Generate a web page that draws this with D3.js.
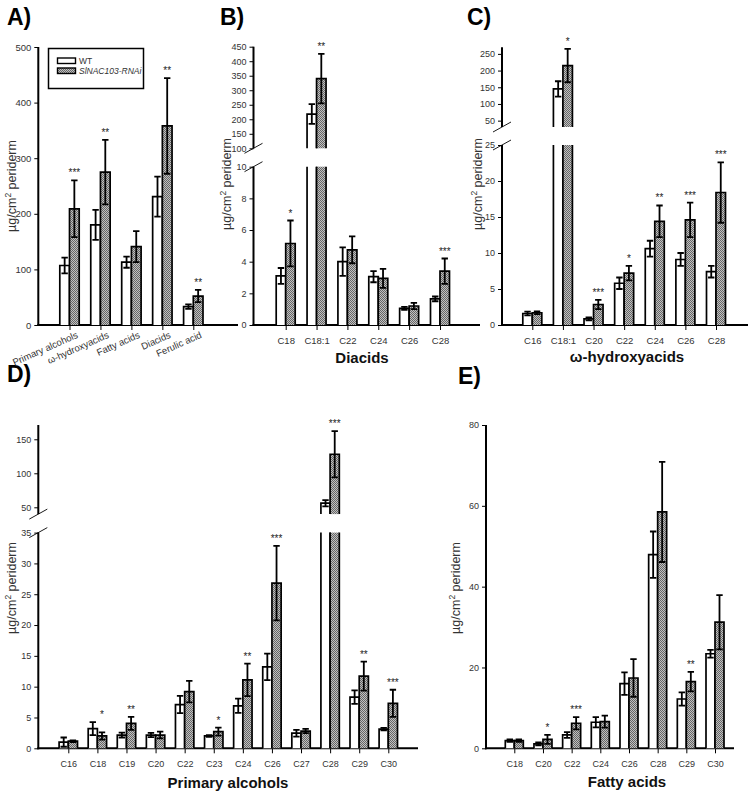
<!DOCTYPE html>
<html><head><meta charset="utf-8">
<script src="https://cdn.jsdelivr.net/npm/d3@7"></script>
<style>
body{margin:0;background:#fff;}
svg{display:block;font-family:"Liberation Sans",Arial,Helvetica,sans-serif;}
</style>
</head><body>
<svg id="chart" width="750" height="792"></svg>
<script>
// ---------- DATA ----------
const seriesNames = ["WT", "SlNAC103-RNAi"];

const catsA = ["Primary alcohols", "ω-hydroxyacids", "Fatty acids", "Diacids", "Ferulic acid"];
const wtA   = [107, 180, 113, 231, 33];
const wtSdA = [14, 27, 10, 36, 4];
const rnA   = [209, 275, 141, 358, 52];
const rnSdA = [51, 58, 28, 86, 11];
const sigA  = ["***", "**", "", "**", "**"];
const ticksA = [0, 100, 200, 300, 400, 500];

const catsB = ["C18", "C18:1", "C22", "C24", "C26", "C28"];
const wtB   = [3.1, 218, 4.0, 3.05, 1.05, 1.65];
const wtSdB = [0.5, 34, 0.9, 0.35, 0.1, 0.15];
const rnB   = [5.15, 340, 4.75, 2.95, 1.2, 3.4];
const rnSdB = [1.45, 85, 0.85, 0.6, 0.2, 0.8];
const sigB  = ["*", "**", "", "", "", "***"];
const ticksBlow = [0, 2, 4, 6, 8, 10];
const ticksBup  = [100, 150, 200, 250, 300, 350, 400, 450];

const catsC = ["C16", "C18:1", "C20", "C22", "C24", "C26", "C28"];
const wtC   = [1.6, 145, 0.85, 5.8, 10.6, 9.1, 7.4];
const wtSdC = [0.25, 23, 0.2, 0.8, 1.1, 0.9, 0.8];
const rnC   = [1.7, 215, 2.85, 7.2, 14.4, 14.6, 18.4];
const rnSdC = [0.2, 50, 0.65, 1.0, 2.2, 2.4, 4.2];
const sigC  = ["", "*", "***", "*", "**", "***", "***"];
const ticksClow = [0, 5, 10, 15, 20, 25];
const ticksCup  = [50, 100, 150, 200, 250];

const catsD = ["C16", "C18", "C19", "C20", "C22", "C23", "C24", "C26", "C27", "C28", "C29", "C30"];
const wtD   = [1.0, 3.2, 2.15, 2.15, 7.1, 2.0, 6.9, 13.2, 2.45, 56, 8.3, 3.1];
const wtSdD = [0.75, 1.05, 0.4, 0.35, 1.4, 0.15, 1.15, 2.15, 0.55, 4.5, 1.1, 0.2];
const rnD   = [1.15, 2.0, 4.05, 2.15, 9.2, 2.7, 11.1, 26.8, 2.8, 128, 11.7, 7.3];
const rnSdD = [0.15, 0.6, 1.05, 0.55, 1.75, 0.65, 2.65, 6.05, 0.35, 34, 2.35, 2.2];
const sigD  = ["", "*", "**", "", "", "*", "**", "***", "", "***", "**", "***"];
const ticksDlow = [0, 5, 10, 15, 20, 25, 30, 35];
const ticksDup  = [50, 100, 150];

const catsE = ["C18", "C20", "C22", "C24", "C26", "C28", "C29", "C30"];
const wtE   = [1.9, 1.1, 3.3, 6.45, 16.0, 47.9, 12.2, 23.4];
const wtSdE = [0.3, 0.35, 0.7, 1.25, 2.8, 5.75, 1.65, 0.95];
const rnE   = [1.9, 2.2, 6.2, 6.6, 17.4, 58.5, 16.5, 31.2];
const rnSdE = [0.3, 1.1, 1.5, 1.5, 4.65, 12.4, 2.4, 6.7];
const sigE  = ["", "*", "***", "", "", "", "**", ""];
const ticksE = [0, 20, 40, 60, 80];

// ---------- DRAWING ----------
const svg = d3.select("#chart");
const defs = svg.append("defs");
const pat = defs.append("pattern").attr("id", "hatch")
  .attr("patternUnits", "userSpaceOnUse").attr("width", 2).attr("height", 2);
pat.append("rect").attr("width", 2).attr("height", 2).attr("fill", "#c0c0c0");
pat.append("rect").attr("width", 1).attr("height", 1).attr("fill", "#666");
pat.append("rect").attr("x", 1).attr("y", 1).attr("width", 1).attr("height", 1).attr("fill", "#666");

const TXT = "#333";

function panel(cfg) {
  const g = svg.append("g");
  const x = d3.scalePoint().domain(cfg.cats).range([cfg.c0, cfg.c1]);
  const segs = cfg.segs.map(s => ({
    scale: d3.scaleLinear().domain(s.domain).range(s.range),
    ticks: s.ticks, lower: s.domain[0] === 0
  }));
  const yBase = cfg.segs[0].range[0];
  const bw = cfg.barW;

  // y axis segments
  segs.forEach(s => {
    const ax = g.append("g").attr("transform", `translate(${cfg.ax},0)`)
      .call(d3.axisLeft(s.scale).tickValues(s.ticks).tickSize(4).tickSizeOuter(0).tickPadding(3));
    ax.select(".domain").remove();
    ax.selectAll(".tick line").attr("stroke", "#000").attr("stroke-width", 1);
    ax.selectAll(".tick text").attr("fill", TXT).attr("font-size", cfg.yFont)
      .attr("font-family", "'Liberation Sans',Arial,sans-serif");
    const r = s.scale.range();
    g.append("line").attr("x1", cfg.ax).attr("x2", cfg.ax)
      .attr("y1", r[0] + (s.lower ? 1 : 0)).attr("y2", r[1])
      .attr("stroke", "#000").attr("stroke-width", 2);
  });
  // break marks
  if (segs.length > 1) {
    [segs[0].scale.range()[1], segs[1].scale.range()[0]].forEach(yy => {
      g.append("line").attr("x1", cfg.ax - 9).attr("y1", yy + 5)
        .attr("x2", cfg.ax + 9).attr("y2", yy - 5)
        .attr("stroke", "#000").attr("stroke-width", 0.9);
    });
  }
  // x axis
  g.append("line").attr("x1", cfg.ax - 1).attr("x2", cfg.xEnd)
    .attr("y1", yBase).attr("y2", yBase).attr("stroke", "#000").attr("stroke-width", 2);
  const xa = g.append("g").attr("transform", `translate(0,${yBase})`)
    .call(d3.axisBottom(x).tickSize(5).tickSizeOuter(0).tickPadding(cfg.rot ? 4 : 7));
  xa.select(".domain").remove();
  xa.selectAll(".tick line").attr("stroke", "#000").attr("stroke-width", 1);
  xa.selectAll(".tick text").attr("fill", TXT).attr("font-size", cfg.xFont)
    .attr("font-family", "'Liberation Sans',Arial,sans-serif");
  if (cfg.rot) {
    xa.selectAll(".tick text").attr("text-anchor", "end")
      .attr("dy", "0.6em").attr("dx", "0.3em")
      .attr("transform", "rotate(-24)");
  }

  // bars
  const series = [
    {vals: cfg.wt, sd: cfg.wtSd, fill: "#fff", off: -bw},
    {vals: cfg.rn, sd: cfg.rnSd, fill: "url(#hatch)", off: 0}
  ];
  const barsG = g.append("g");
  const errG = g.append("g");
  series.forEach(ser => {
    cfg.cats.forEach((c, i) => {
      const v = ser.vals[i];
      const l = x(c) + ser.off, r = l + bw;
      segs.forEach(s => {
        const d = s.scale.domain();
        if (v <= d[0] && !s.lower) return;
        const lo = s.lower ? 0 : d[0];
        const hi = Math.min(v, d[1]);
        const yb = s.scale(lo), yt = s.scale(hi);
        const realTop = v <= d[1];
        barsG.append("rect").attr("x", l).attr("y", yt).attr("width", bw).attr("height", yb - yt)
          .attr("fill", ser.fill);
        const p = realTop
          ? `M${l},${yb}V${yt}H${r}V${yb}`
          : `M${l},${yb}V${yt}M${r},${yt}V${yb}`;
        barsG.append("path").attr("d", p).attr("fill", "none")
          .attr("stroke", "#000").attr("stroke-width", 1.7);
      });
      // error bar in the segment containing v
      const s = segs.find(s => v >= (s.lower ? 0 : s.scale.domain()[0]) && v <= s.scale.domain()[1]);
      const cx = (l + r) / 2;
      const y1 = s.scale(v + ser.sd[i]), y2 = s.scale(Math.max(v - ser.sd[i], 0));
      errG.append("path")
        .attr("d", `M${cx},${y1}V${y2}M${cx - 3.2},${y1}H${cx + 3.2}M${cx - 3.2},${y2}H${cx + 3.2}`)
        .attr("stroke", "#000").attr("stroke-width", 1.8).attr("fill", "none");
    });
  });

  // significance stars
  const yOf = v => { const s = segs.find(s => v <= s.scale.domain()[1]) || segs[segs.length - 1]; return s.scale(v); };
  cfg.cats.forEach((c, i) => {
    if (!cfg.sig[i]) return;
    const top = Math.min(yOf(cfg.wt[i] + cfg.wtSd[i]), yOf(cfg.rn[i] + cfg.rnSd[i]));
    g.append("text").attr("x", x(c) + bw / 2).attr("y", top - 4)
      .attr("text-anchor", "middle").attr("font-size", 10).attr("fill", "#222")
      .text(cfg.sig[i]);
  });

  // y title
  const yt = g.append("text")
    .attr("transform", `translate(${cfg.ytX},${cfg.ytY}) rotate(-90)`)
    .attr("text-anchor", "middle").attr("font-size", 12.5).attr("fill", TXT);
  yt.append("tspan").text("µg/cm");
  yt.append("tspan").attr("font-size", 8.5).attr("dy", -5).text("2");
  yt.append("tspan").attr("dy", 5).text(" periderm");

  // x title
  if (cfg.title) {
    g.append("text").attr("x", cfg.tX).attr("y", cfg.tY).attr("text-anchor", "middle")
      .attr("font-size", 15).attr("font-weight", "bold").attr("fill", "#111").text(cfg.title);
  }
  // panel label
  g.append("text").attr("x", cfg.lX).attr("y", cfg.lY)
    .attr("font-size", 23).attr("font-weight", "bold").attr("fill", "#000").text(cfg.label);
  return g;
}

panel({cats: catsA, wt: wtA, wtSd: wtSdA, rn: rnA, rnSd: rnSdA, sig: sigA,
  ax: 38.3, xEnd: 238, c0: 69.5, c1: 193.3, barW: 9.7,
  segs: [{domain: [0, 500], range: [325, 47], ticks: ticksA}],
  yFont: 9.5, xFont: 9.5, rot: true, ytX: 16, ytY: 186, label: "A)", lX: 7, lY: 25});

panel({cats: catsB, wt: wtB, wtSd: wtSdB, rn: rnB, rnSd: rnSdB, sig: sigB,
  ax: 253.5, xEnd: 480, c0: 285.7, c1: 440, barW: 9.5,
  segs: [{domain: [0, 10], range: [325, 166.7], ticks: ticksBlow},
         {domain: [100, 450], range: [148.3, 46.7], ticks: ticksBup}],
  yFont: 9, xFont: 9.5, ytX: 230.5, ytY: 184, title: "Diacids", tX: 362, tY: 363,
  label: "B)", lX: 220, lY: 25});

panel({cats: catsC, wt: wtC, wtSd: wtSdC, rn: rnC, rnSd: rnSdC, sig: sigC,
  ax: 502, xEnd: 748, c0: 532.3, c1: 716, barW: 9.5,
  segs: [{domain: [0, 25], range: [325, 145], ticks: ticksClow},
         {domain: [31, 270], range: [127, 47.2], ticks: ticksCup}],
  yFont: 9, xFont: 9.5, ytX: 481.5, ytY: 184, title: "ω-hydroxyacids", tX: 627, tY: 362,
  label: "C)", lX: 467, lY: 25});

panel({cats: catsD, wt: wtD, wtSd: wtSdD, rn: rnD, rnSd: rnSdD, sig: sigD,
  ax: 38.3, xEnd: 418, c0: 68.3, c1: 388.3, barW: 9.2,
  segs: [{domain: [0, 35], range: [748.3, 532.6], ticks: ticksDlow},
         {domain: [40, 171], range: [514.1, 425], ticks: ticksDup}],
  yFont: 9, xFont: 9, ytX: 16, ytY: 588, title: "Primary alcohols", tX: 228, tY: 788,
  label: "D)", lX: 7, lY: 382});

panel({cats: catsE, wt: wtE, wtSd: wtSdE, rn: rnE, rnSd: rnSdE, sig: sigE,
  ax: 486, xEnd: 734, c0: 514.3, c1: 715, barW: 9,
  segs: [{domain: [0, 80], range: [748.3, 425], ticks: ticksE}],
  yFont: 9, xFont: 9, ytX: 460, ytY: 588, title: "Fatty acids", tX: 627, tY: 787,
  label: "E)", lX: 458, lY: 384});

// legend (panel A)
const lg = svg.append("g");
lg.append("rect").attr("x", 48.5).attr("y", 48.5).attr("width", 95).attr("height", 40)
  .attr("fill", "#fff").attr("stroke", "#000").attr("stroke-width", 1.5);
const lgFills = ["#fff", "url(#hatch)"];
seriesNames.forEach((n, i) => {
  const yy = 58 + i * 10;
  lg.append("rect").attr("x", 57.5).attr("y", yy).attr("width", 18).attr("height", 5.5)
    .attr("fill", lgFills[i]).attr("stroke", "#000").attr("stroke-width", 1.4);
  lg.append("text").attr("x", 79).attr("y", yy + 5.5).attr("font-size", 8.5)
    .attr("font-style", i === 1 ? "italic" : "normal").attr("fill", TXT).text(n);
});
</script>
</body></html>
